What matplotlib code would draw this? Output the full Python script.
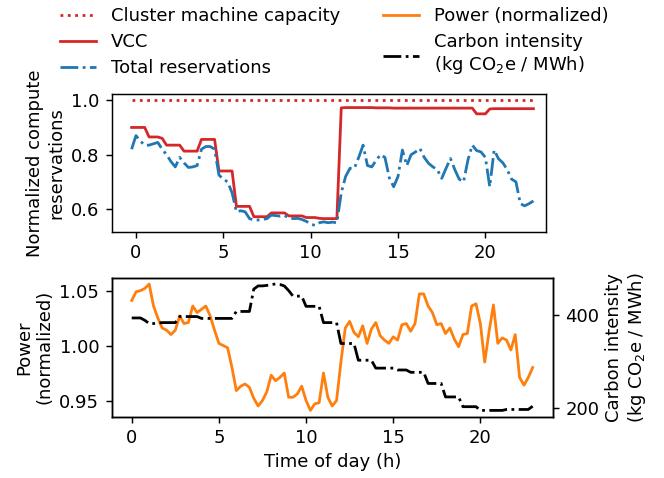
import numpy as np
import matplotlib
matplotlib.use("Agg")
import matplotlib.pyplot as plt

# top panel: 15-min samples starting at -0.25 h
capacity = [1.0] * 93
vcc = [
    0.900, 0.900, 0.900, 0.900, 0.865, 0.865, 0.865, 0.860,
    0.835, 0.835, 0.835, 0.835, 0.813, 0.813, 0.813, 0.813,
    0.856, 0.856, 0.856, 0.856, 0.740, 0.740, 0.740, 0.740,
    0.610, 0.610, 0.610, 0.610, 0.572, 0.572, 0.572, 0.572,
    0.586, 0.586, 0.586, 0.586, 0.575, 0.575, 0.575, 0.575,
    0.569, 0.569, 0.569, 0.566, 0.565, 0.565, 0.565, 0.565,
    0.972, 0.973, 0.973, 0.973, 0.973, 0.973, 0.973, 0.973,
    0.972, 0.972, 0.972, 0.972, 0.971, 0.971, 0.971, 0.971,
    0.971, 0.971, 0.971, 0.971, 0.971, 0.971, 0.971, 0.971,
    0.971, 0.971, 0.971, 0.971, 0.971, 0.971, 0.971, 0.950,
    0.950, 0.950, 0.968, 0.969, 0.969, 0.969, 0.969, 0.969,
    0.969, 0.969, 0.969, 0.969, 0.969,
]
reservations = [
    0.820, 0.870, 0.850, 0.835, 0.835, 0.840, 0.845, 0.820,
    0.800, 0.775, 0.755, 0.790, 0.770, 0.753, 0.755, 0.760,
    0.820, 0.830, 0.830, 0.820, 0.725, 0.710, 0.700, 0.660,
    0.590, 0.594, 0.590, 0.565, 0.560, 0.560, 0.562, 0.565,
    0.578, 0.576, 0.574, 0.576, 0.568, 0.565, 0.566, 0.562,
    0.555, 0.545, 0.540, 0.550, 0.553, 0.550, 0.552, 0.550,
    0.660, 0.720, 0.750, 0.750, 0.790, 0.835, 0.760, 0.755,
    0.780, 0.800, 0.790, 0.715, 0.682, 0.720, 0.817, 0.760,
    0.800, 0.810, 0.823, 0.790, 0.768, 0.755, 0.745, 0.713,
    0.750, 0.786, 0.745, 0.710, 0.700, 0.780, 0.835, 0.815,
    0.810, 0.790, 0.682, 0.817, 0.785, 0.770, 0.745, 0.710,
    0.700, 0.620, 0.612, 0.620, 0.630,
]
hours_top = -0.25 + 0.25 * np.arange(len(vcc))

# bottom panel: 15-min samples from 0 h
power = [
    1.041, 1.049, 1.050, 1.052, 1.056, 1.036, 1.025, 1.016,
    1.014, 1.010, 1.014, 1.027, 1.020, 1.021, 1.036, 1.030,
    1.033, 1.036, 1.027, 1.014, 1.002, 1.000, 0.998, 0.980,
    0.959, 0.963, 0.965, 0.962, 0.952, 0.945, 0.950, 0.958,
    0.973, 0.968, 0.971, 0.975, 0.953, 0.953, 0.956, 0.963,
    0.950, 0.941, 0.947, 0.948, 0.975, 0.953, 0.945, 0.950,
    0.985, 1.016, 1.022, 1.012, 1.008, 1.018, 1.002, 1.015,
    1.021, 1.009, 1.005, 1.002, 1.008, 1.005, 1.019, 1.020,
    1.013, 1.020, 1.047, 1.047, 1.036, 1.030, 1.019, 1.020,
    1.011, 1.016, 1.006, 0.999, 1.010, 1.011, 1.036, 1.038,
    1.020, 0.985, 1.013, 1.037, 1.002, 1.007, 1.005, 0.996,
    1.010, 0.971, 0.964, 0.971, 0.980,
]
carbon = [
    393, 393, 393, 388, 381, 381, 382, 383,
    383, 383, 383, 396, 396, 396, 396, 396,
    392, 392, 392, 392, 392, 392, 392, 392,
    407, 407, 407, 407, 455, 462, 462, 463,
    465, 466, 465, 462, 452, 440, 440, 440,
    418, 418, 418, 418, 383, 383, 383, 383,
    338, 338, 338, 338, 302, 302, 302, 302,
    285, 285, 285, 285, 285, 281, 281, 281,
    276, 276, 276, 276, 252, 252, 252, 252,
    223, 223, 223, 223, 202, 202, 202, 202,
    194, 194, 194, 194, 194, 194, 196, 196,
    196, 196, 196, 196, 203,
]
hours = 0.25 * np.arange(len(power))

# looks like a default-style figure blown up ~1.3x
plt.rcParams['font.size'] = 13
plt.rcParams['lines.linewidth'] = 2.0
plt.rcParams['axes.linewidth'] = 1.05
for a in ('xtick', 'ytick'):
    plt.rcParams[a + '.major.size'] = 4.5
    plt.rcParams[a + '.major.width'] = 1.05
    plt.rcParams[a + '.major.pad'] = 4.5

fig = plt.figure(figsize=(6.64, 4.78), dpi=100)
ax1 = fig.add_axes([0.1682, 0.5153, 0.6541, 0.2881])
ax2 = fig.add_axes([0.1682, 0.1282, 0.6642, 0.2908])
ax3 = ax2.twinx()

l_cap, = ax1.plot(hours_top, capacity, ':', color='tab:red', label='Cluster machine capacity')
l_vcc, = ax1.plot(hours_top, vcc, '-', color='tab:red', label='VCC')
l_res, = ax1.plot(hours_top, reservations, '-.', color='tab:blue', label='Total reservations')
ax1.set_xlim(-1.39, 23.47)
ax1.set_ylabel('Normalized compute\nreservations')

l_pow, = ax2.plot(hours, power, '-', color='tab:orange', label='Power (normalized)')
l_car, = ax3.plot(hours, carbon, '-.', color='black',
                  label='Carbon intensity\n(kg CO$_2$e / MWh)')
ax2.set_ylabel('Power\n(normalized)')
ax3.set_ylabel('Carbon intensity\n(kg CO$_2$e / MWh)')
ax2.set_xlabel('Time of day (h)')
ax2.set_yticks([0.95, 1.00, 1.05])
ax3.set_yticks([200, 400])

fig.legend(handles=[l_cap, l_vcc, l_res, l_pow, l_car], ncol=2, frameon=False,
           loc='upper left', bbox_to_anchor=(0.066, 1.019), columnspacing=2.4,
           labelspacing=0.45)

fig.savefig('out.png', dpi=100)
